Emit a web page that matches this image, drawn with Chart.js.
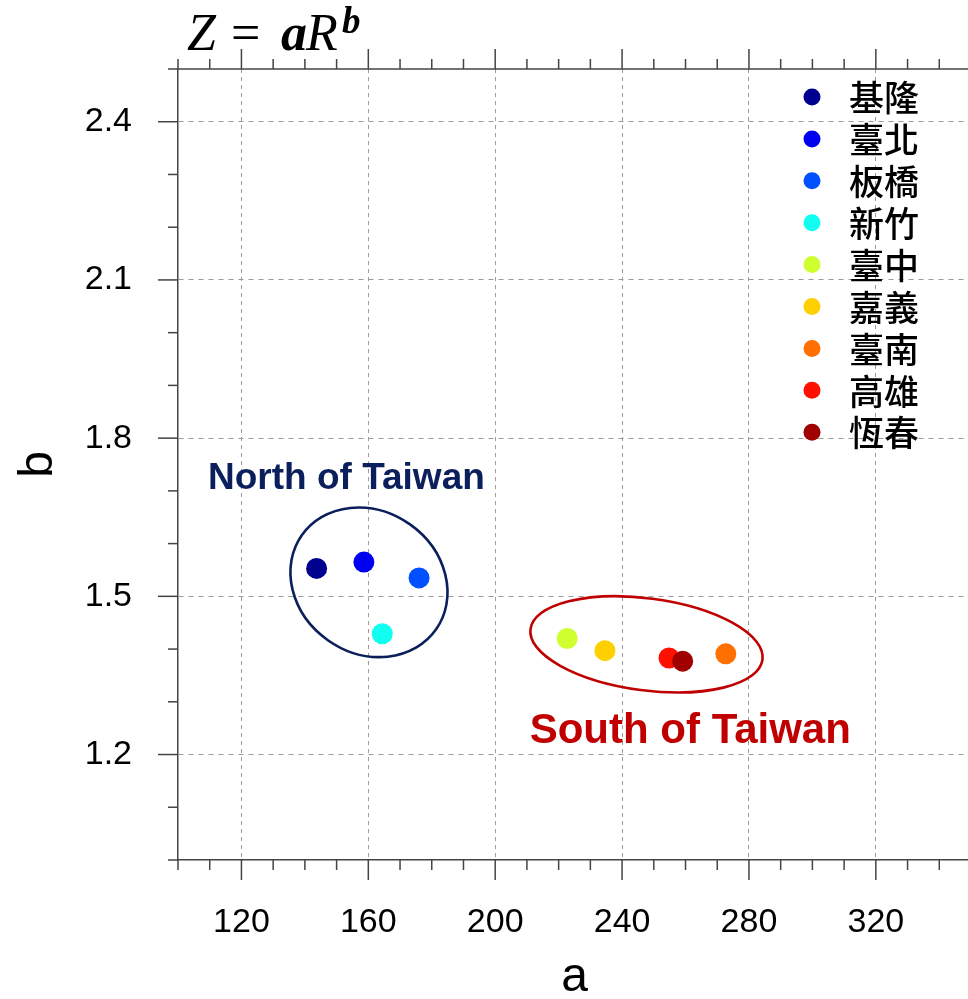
<!DOCTYPE html>
<html>
<head>
<meta charset="utf-8">
<script src="https://cdn.jsdelivr.net/npm/chart.js@4.4.0/dist/chart.umd.min.js"></script>
<style>
  html, body { margin: 0; padding: 0; overflow: hidden; background: #fff; }
  #wrap { position: relative; width: 1000px; height: 999px; }
</style>
</head>
<body>
<div id="wrap"><canvas id="c" width="1000" height="999"></canvas></div>
<script>
// Z = aR^b fitted coefficients per station
const stations = ['基隆', '臺北', '板橋', '新竹', '臺中', '嘉義', '臺南', '高雄', '恆春'];
const aValues = [143.7, 158.6, 176.0, 164.4, 222.7, 234.6, 272.7, 254.8, 259.1];
const bValues = [1.553, 1.565, 1.535, 1.429, 1.420, 1.397, 1.391, 1.383, 1.377];
const stationColors = ['#00008f', '#0000f0', '#0050ff', '#10fff0', '#d0ff30', '#ffd000', '#ff7000', '#ff1000', '#a00000'];

// labelled (major) ticks
const xTickLabels = [120, 160, 200, 240, 280, 320];
const yTickLabels = [1.2, 1.5, 1.8, 2.1, 2.4];

// grouping rings and their captions
const regionRings = [
  { a: 160.2, b: 1.5266, rx: 82, ry: 71, rot: 35, color: '#0b1f5c' },
  { a: 247.7, b: 1.409, rx: 117, ry: 46, rot: 7.5, color: '#c00000' }
];
const regionLabels = [
  { text: 'North of Taiwan', a: 153.1, b: 1.703, size: 37, color: '#0b1f5c' },
  { text: 'South of Taiwan', a: 261.5, b: 1.221, size: 42, color: '#c00000' }
];

const near = (v, list) => list.some(m => Math.abs(m - v) < 1e-6);
const isMajorX = v => near(v, xTickLabels);
const isMajorY = v => near(v, yTickLabels);

const datasets = stations.map((name, i) => ({
  label: name,
  data: [{ x: aValues[i], y: bValues[i] }],
  backgroundColor: stationColors[i],
  borderWidth: 0,
  pointRadius: 10.5,
  pointHoverRadius: 10.5,
  order: -i
}));

const decorations = {
  id: 'decorations',
  afterDraw(chart) {
    const { ctx, chartArea: ca, scales: { x, y } } = chart;
    ctx.save();

    // top frame line
    ctx.strokeStyle = '#444';
    ctx.lineWidth = 1.5;
    const seg = (x1, y1, x2, y2) => { ctx.beginPath(); ctx.moveTo(x1, y1); ctx.lineTo(x2, y2); ctx.stroke(); };
    seg(ca.left, ca.top, ca.right + 40, ca.top);

    // outward tick marks: bottom & top for x, left for y
    x.ticks.forEach(t => {
      const px = x.getPixelForValue(t.value);
      const len = isMajorX(t.value) ? 20 : 10;
      seg(px, ca.bottom, px, ca.bottom + len);
      seg(px, ca.top, px, ca.top - len);
    });
    y.ticks.forEach(t => {
      const py = y.getPixelForValue(t.value);
      const len = isMajorY(t.value) ? 20 : 10;
      seg(ca.left, py, ca.left - len, py);
    });

    // region rings
    regionRings.forEach(r => {
      ctx.strokeStyle = r.color;
      ctx.lineWidth = 2.6;
      ctx.beginPath();
      ctx.ellipse(x.getPixelForValue(r.a), y.getPixelForValue(r.b), r.rx, r.ry, r.rot * Math.PI / 180, 0, Math.PI * 2);
      ctx.stroke();
    });

    // region captions
    regionLabels.forEach(l => {
      ctx.fillStyle = l.color;
      ctx.font = 'bold ' + l.size + 'px "Liberation Sans", Arial, sans-serif';
      ctx.textAlign = 'center';
      ctx.textBaseline = 'alphabetic';
      ctx.fillText(l.text, x.getPixelForValue(l.a), y.getPixelForValue(l.b));
    });

    // legend in the upper right of the plot
    const lx = 812, ly0 = 97, lstep = 41.9;
    chart.data.datasets.forEach((ds, i) => {
      const cy = ly0 + i * lstep;
      ctx.fillStyle = ds.backgroundColor;
      ctx.beginPath();
      ctx.arc(lx, cy, 8.5, 0, Math.PI * 2);
      ctx.fill();
      ctx.fillStyle = '#000';
      ctx.font = '500 35px "Noto Sans CJK TC", sans-serif';
      ctx.textAlign = 'left';
      ctx.textBaseline = 'middle';
      ctx.fillText(ds.label, 849, cy + 1);
    });

    // formula heading: Z = aR^b
    const parts = [
      { t: 'Z', f: 'italic 52px "Liberation Serif", serif', x: 187, y: 50 },
      { t: '=', f: '52px "Liberation Serif", serif', x: 231, y: 50 },
      { t: 'a', f: 'italic bold 52px "Liberation Serif", serif', x: 281, y: 50 },
      { t: 'R', f: 'italic 52px "Liberation Serif", serif', x: 306, y: 50 },
      { t: 'b', f: 'italic bold 37px "Liberation Serif", serif', x: 342, y: 33 }
    ];
    ctx.fillStyle = '#000';
    ctx.textAlign = 'left';
    ctx.textBaseline = 'alphabetic';
    parts.forEach(p => {
      ctx.font = p.f;
      ctx.fillText(p.t, p.x, p.y);
    });

    ctx.restore();
  }
};

new Chart(document.getElementById('c'), {
  type: 'scatter',
  data: { datasets },
  options: {
    responsive: false,
    animation: false,
    events: [],
    layout: { padding: { top: 69, right: 29, left: 0, bottom: 0 } },
    plugins: { legend: { display: false }, tooltip: { enabled: false } },
    scales: {
      x: {
        type: 'linear',
        min: 100, max: 350,
        afterFit: s => { s.height = 139; s.paddingLeft = 0; s.paddingRight = 0; },
        ticks: {
          stepSize: 10,
          autoSkip: false,
          maxRotation: 0,
          padding: 42,
          color: '#000',
          font: { family: '"Liberation Sans", Arial, sans-serif', size: 34 },
          callback: v => (isMajorX(v) ? String(v) : '')
        },
        grid: {
          drawTicks: false,
          lineWidth: 1,
          color: c => (c.tick && isMajorX(c.tick.value) ? '#9a9a9a' : 'rgba(0,0,0,0)')
        },
        border: { display: true, color: '#444', width: 1.5, dash: [4, 4] },
        title: {
          display: true, text: 'a', color: '#000',
          font: { family: '"Liberation Sans", Arial, sans-serif', size: 48, lineHeight: 0.9 },
          padding: { top: 0, bottom: 0 }
        }
      },
      y: {
        type: 'linear',
        min: 1.0, max: 2.5,
        afterFit: s => { s.width = 178; s.paddingTop = 0; s.paddingBottom = 0; },
        ticks: {
          stepSize: 0.1,
          autoSkip: false,
          padding: 46,
          color: '#000',
          font: { family: '"Liberation Sans", Arial, sans-serif', size: 34 },
          callback: v => (isMajorY(v) ? v.toFixed(1) : '')
        },
        grid: {
          drawTicks: false,
          lineWidth: 1,
          color: c => (c.tick && isMajorY(c.tick.value) ? '#9a9a9a' : 'rgba(0,0,0,0)')
        },
        border: { display: true, color: '#444', width: 1.5, dash: [5, 5] },
        title: {
          display: true, text: 'b', color: '#000',
          font: { family: '"Liberation Sans", Arial, sans-serif', size: 48, lineHeight: 0.9 },
          padding: { top: 17, bottom: 0 }
        }
      }
    }
  },
  plugins: [decorations]
});
</script>
</body>
</html>
